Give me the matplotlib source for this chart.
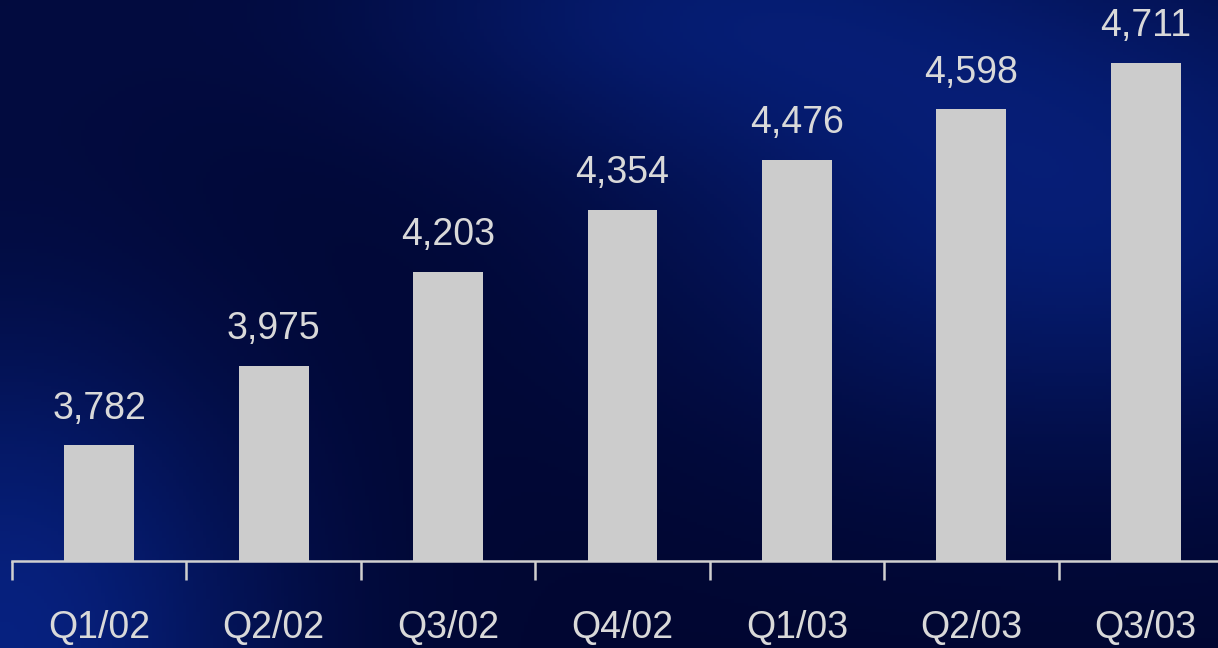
import numpy as np
import matplotlib.pyplot as plt
from matplotlib import font_manager

quarters = ['Q1/02', 'Q2/02', 'Q3/02', 'Q4/02', 'Q1/03', 'Q2/03', 'Q3/03']
values = [3782, 3975, 4203, 4354, 4476, 4598, 4711]

names = {f.name for f in font_manager.fontManager.ttflist}
font = 'Liberation Sans Narrow' if 'Liberation Sans Narrow' in names else 'Liberation Sans'
plt.rcParams['font.family'] = [font, 'DejaVu Sans']

W, H = 1218, 648
fig = plt.figure(figsize=(W / 100, H / 100), dpi=100)

# background: dark navy with brighter blue patches
bg = fig.add_axes([0, 0, 1, 1])
yy, xx = np.mgrid[0:1:200j, 0:1:360j]  # yy = 0 at top
base = np.array([0.004, 0.024, 0.19])
blue = np.array([0.027, 0.13, 0.50])
w = (np.exp(-(xx ** 2 / 0.05 + (1 - yy) ** 2 / 0.25))
     + 0.85 * np.exp(-((xx - 0.88) ** 2 / 0.12 + (yy - 0.3) ** 2 / 0.15))
     + 0.6 * np.exp(-((xx - 0.55) ** 2 / 0.08 + yy ** 2 / 0.05))
     + 0.15 * np.exp(-(xx ** 2 / 0.05 + yy ** 2 / 0.1)))
w = np.clip(w, 0, 1)
img = base + (blue - base) * w[..., None]
bg.imshow(img, extent=[0, 1, 0, 1], aspect='auto', origin='upper')
bg.axis('off')

ax = fig.add_axes([12 / W, 87 / H, 1221 / W, 561 / H])
ax.patch.set_alpha(0)
x = np.arange(len(quarters))
ax.bar(x, values, width=0.4, color='#cccccc')
ax.set_xlim(-0.5, 6.5)
ax.set_ylim(3500, 4864)

for xi, v in zip(x, values):
    ax.text(xi, v + 45, f'{v:,}', ha='center', va='bottom', fontsize=27, color='#d9d9d9')

for s in ['top', 'right', 'left']:
    ax.spines[s].set_visible(False)
ax.spines['bottom'].set_color('#d0d0d0')
ax.spines['bottom'].set_linewidth(1.8)
ax.set_yticks([])
ax.set_xticks(np.arange(-0.5, 7, 1))
ax.set_xticklabels([])
ax.tick_params(axis='x', length=14, width=1.8, color='#d0d0d0')
ax.set_xticks(x, minor=True)
ax.set_xticklabels(quarters, minor=True)
ax.tick_params(axis='x', which='minor', length=0, pad=35, labelsize=27, labelcolor='#d9d9d9')

fig.savefig('out.png', dpi=100)
